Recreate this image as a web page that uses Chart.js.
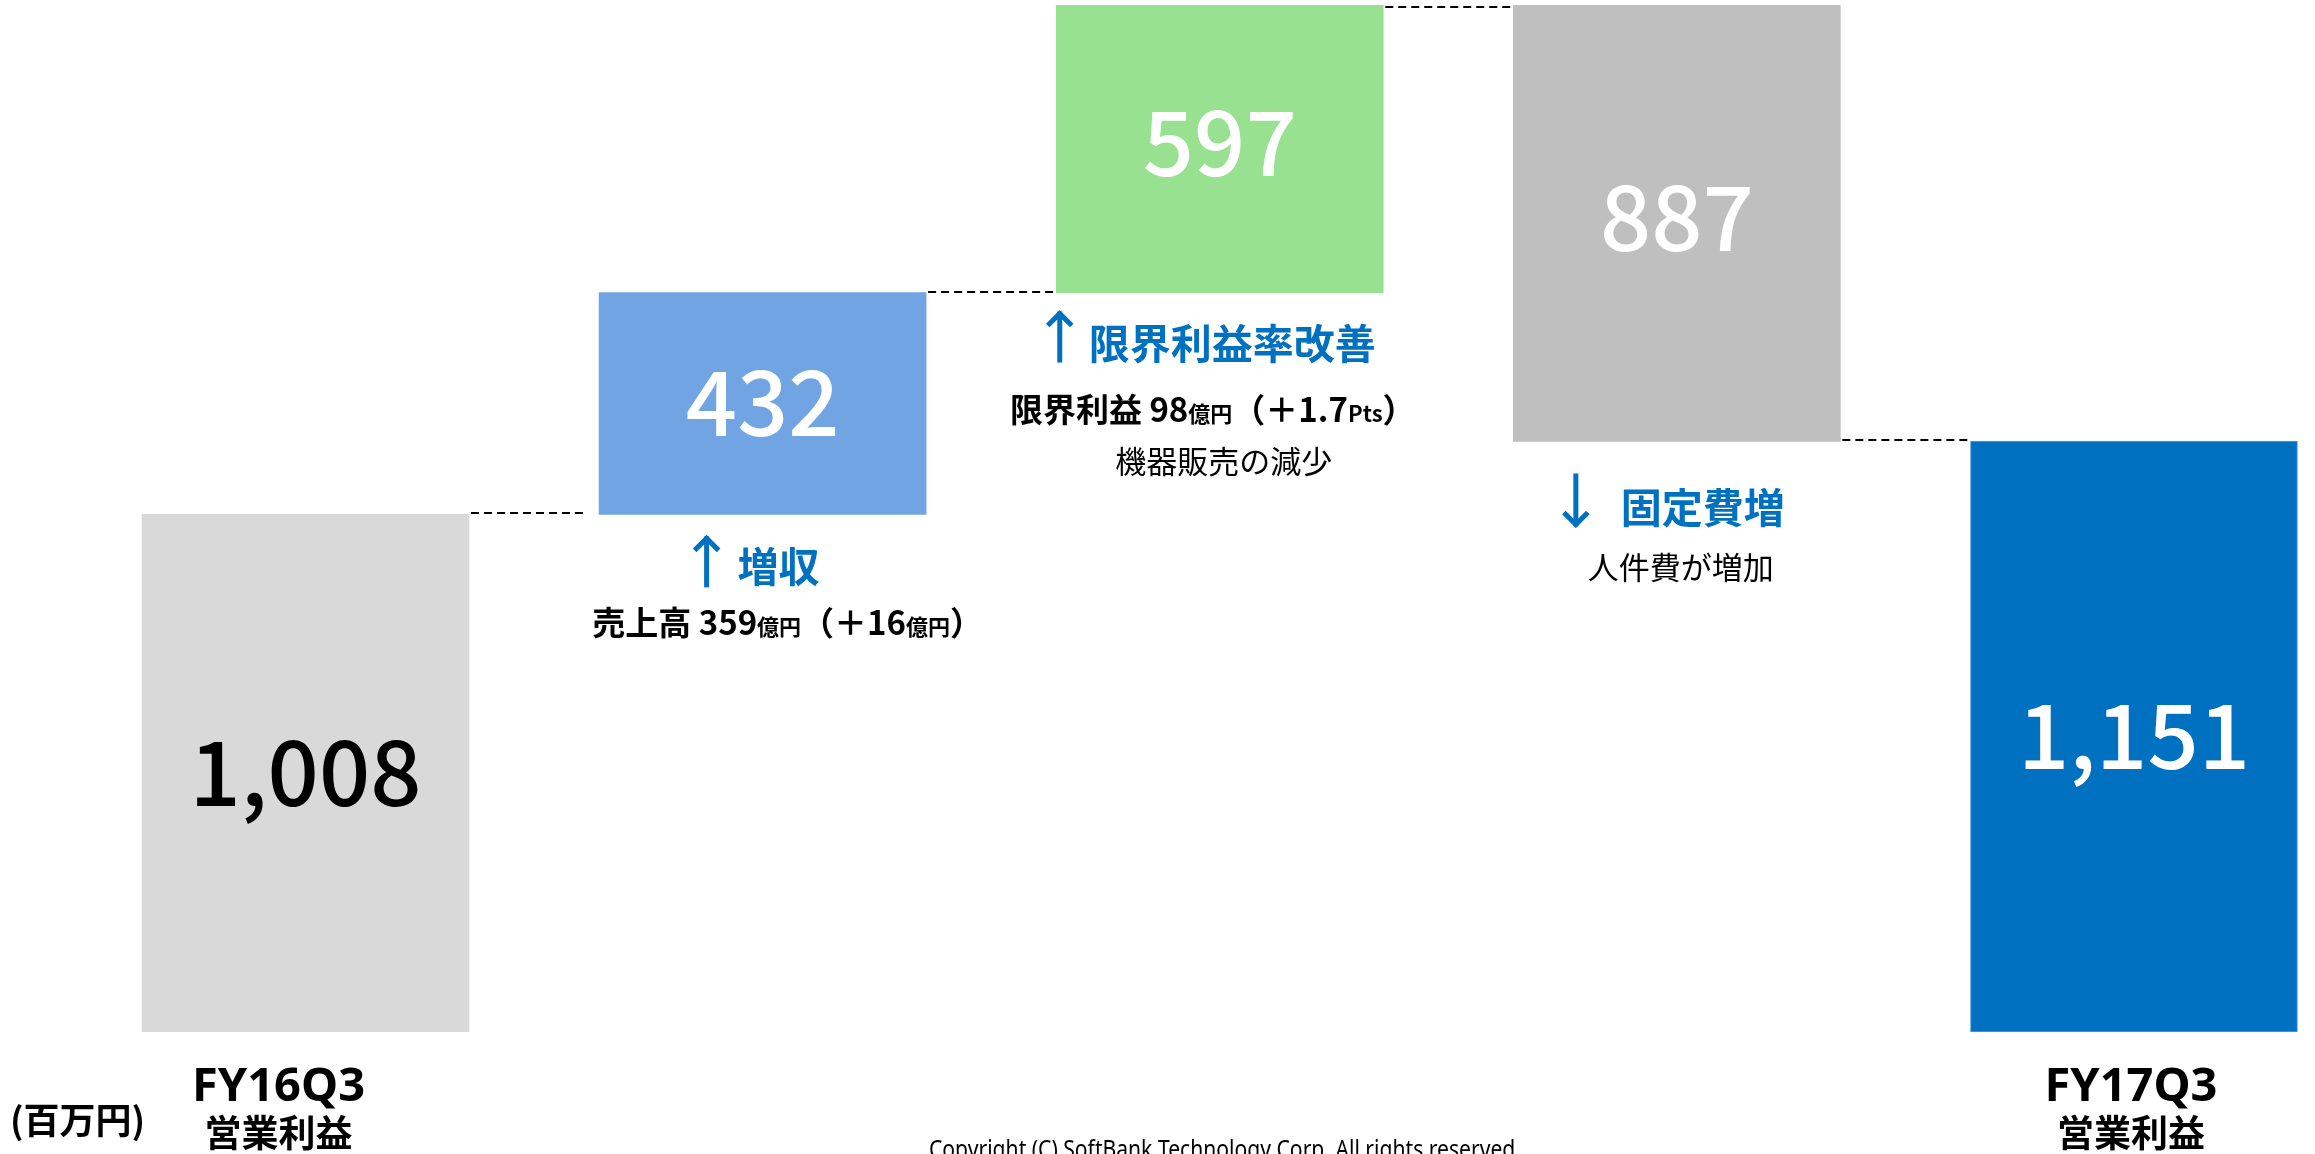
<!DOCTYPE html>
<html><head><meta charset="utf-8">
<script src="https://cdn.jsdelivr.net/npm/chart.js@4.4.1/dist/chart.umd.min.js"></script>
<style>html,body{margin:0;padding:0;background:#fff;overflow:hidden}canvas{display:block}</style>
</head><body>
<canvas id="c" width="2315" height="1154"></canvas>
<script>
// ---- data ----
const categories = [['FY16Q3', '営業利益'], '増収', '限界利益率改善', '固定費増', ['FY17Q3', '営業利益']];
const stepValues = [1008, 432, 597, -887];   // start profit, then changes
const endValue = 1151;
const valueLabels = ['1,008', '432', '597', '887', '1,151'];
const unitLabel = '(百万円)';
const noteArrows = ['', 'up', 'up', 'down', ''];
const noteTitles = ['', '増収', '限界利益率改善', '固定費増', ''];
const noteDetails = [
  [],
  [[['売上高 359', 33, 'bold'], ['億円', 22, 'bold'], ['（＋16', 33, 'bold'], ['億円', 22, 'bold'], ['）', 33, 'bold']]],
  [[['限界利益 98', 33, 'bold'], ['億円', 22, 'bold'], ['（＋1.7', 33, 'bold'], ['Pts', 22, 'bold'], ['）', 33, 'bold']],
   [['機器販売の減少', 31, 'normal']]],
  [[['人件費が増加', 31, 'normal']]],
  []
];
const copyright = 'Copyright (C) SoftBank Technology Corp. All rights reserved.';
const barColors = ['#d9d9d9', '#70a4e2', '#98e191', '#bfbfbf', '#0070c0'];
const labelColors = ['#000000', '#ffffff', '#ffffff', '#ffffff', '#ffffff'];

// floating ranges built from the values
let run = 0;
const ranges = stepValues.map(v => { const r = [run, run + v]; run += v; return r; });
ranges.push([0, endValue]);
const points = ranges.map((r, i) => ({x: i, y: r}));

const JP = '"Noto Sans CJK JP", "Noto Sans", sans-serif';
const LAT = '"Noto Sans", "Noto Sans CJK JP", sans-serif';
const BLUE = '#0070c0';

// layout per annotation (offsets from bar centre / bar visible bottom)
const noteLayout = {
  1: {arrowDx: -56, arrowTop: 22, arrowBot: 73, titleDx: -25, titleCy: 52, lines: [{dx: 25, base: 121, mode: 'baseline'}]},
  2: {arrowDx: -160, arrowTop: 19, arrowBot: 70, titleDx: -131, titleCy: 51, lines: [{dx: -7, base: 129, mode: 'baseline'}, {dx: 4, base: 169, mode: 'middle'}]},
  3: {arrowDx: -101, arrowTop: 32, arrowBot: 85, titleDx: -56, titleCy: 66, lines: [{dx: 4, base: 126, mode: 'middle'}]}
};

const overlay = {
  id: 'overlay',
  afterDatasetsDraw(chart) {
    const ctx = chart.ctx, area = chart.chartArea, ys = chart.scales.y;
    const els = chart.getDatasetMeta(0).data;
    const vis = els.map(e => {
      const t = Math.max(area.top, Math.min(e.y, e.base));
      const b = Math.min(area.bottom, Math.max(e.y, e.base));
      return {x: e.x, w: e.width, top: t, bottom: b};
    });
    ctx.save();
    // dashed connectors
    ctx.strokeStyle = '#000'; ctx.lineWidth = 2; ctx.setLineDash([8, 5]);
    for (let i = 0; i < vis.length - 1; i++) {
      const lvl = i === vis.length - 2 ? ranges[i + 1][1] : ranges[i][1];
      const y = Math.max(area.top + 2, Math.round(ys.getPixelForValue(lvl)) - 1);
      ctx.beginPath();
      ctx.moveTo(vis[i].x + vis[i].w / 2 + 2, y);
      ctx.lineTo(vis[i + 1].x - vis[i + 1].w / 2 - (i === 0 ? 12 : 0), y);
      ctx.stroke();
    }
    ctx.setLineDash([]);
    // value labels
    ctx.textAlign = 'center'; ctx.textBaseline = 'alphabetic';
    const vSize = 90;
    ctx.font = `500 ${vSize}px ${JP}`;
    vis.forEach((v, i) => {
      ctx.fillStyle = labelColors[i];
      const cy = (v.top + v.bottom) / 2 - (v.top <= area.top + 1 ? 5 : 0);
      ctx.fillText(valueLabels[i], v.x, cy + vSize * 0.36);
    });
    // category labels under first/last bars
    const catDx = [-27, 0, 0, 0, -3];
    [0, 4].forEach(i => {
      const c = categories[i];
      ctx.fillStyle = '#000'; ctx.textAlign = 'center';
      ctx.textBaseline = 'alphabetic';
      ctx.font = `bold 47px ${LAT}`;
      ctx.fillText(c[0], vis[i].x + catDx[i], area.bottom + 69);
      ctx.textBaseline = 'middle';
      ctx.font = `bold 37px ${JP}`;
      ctx.fillText(c[1], vis[i].x + catDx[i], area.bottom + 101);
    });
    // unit
    ctx.textAlign = 'left'; ctx.textBaseline = 'middle';
    ctx.font = `bold 36px ${JP}`;
    ctx.fillText(unitLabel, 10, area.bottom + 88);
    // notes
    Object.keys(noteLayout).forEach(k => {
      const i = +k, L = noteLayout[k], v = vis[i];
      const ax = v.x + L.arrowDx, t = v.bottom + L.arrowTop, b = v.bottom + L.arrowBot;
      ctx.strokeStyle = BLUE; ctx.lineWidth = 5; ctx.lineCap = 'butt'; ctx.lineJoin = 'miter';
      ctx.beginPath(); ctx.moveTo(ax, t); ctx.lineTo(ax, b); ctx.stroke();
      ctx.beginPath();
      if (noteArrows[i] === 'up') { ctx.moveTo(ax - 12, t + 14); ctx.lineTo(ax, t + 2); ctx.lineTo(ax + 12, t + 14); }
      else { ctx.moveTo(ax - 12, b - 14); ctx.lineTo(ax, b - 2); ctx.lineTo(ax + 12, b - 14); }
      ctx.stroke();
      ctx.fillStyle = BLUE; ctx.textAlign = 'left'; ctx.textBaseline = 'middle';
      ctx.font = `bold 41px ${JP}`;
      ctx.fillText(noteTitles[i], v.x + L.titleDx, v.bottom + L.titleCy);
      noteDetails[i].forEach((runs, j) => {
        const ln = L.lines[j];
        let total = 0;
        runs.forEach(r => { ctx.font = `${r[2]} ${r[1]}px ${JP}`; total += ctx.measureText(r[0]).width; });
        let x = v.x + ln.dx - total / 2;
        ctx.fillStyle = '#000'; ctx.textAlign = 'left';
        ctx.textBaseline = ln.mode === 'baseline' ? 'alphabetic' : 'middle';
        runs.forEach(r => {
          ctx.font = `${r[2]} ${r[1]}px ${JP}`;
          ctx.fillText(r[0], x, v.bottom + ln.base);
          x += ctx.measureText(r[0]).width;
        });
      });
    });
    // copyright
    ctx.fillStyle = '#000'; ctx.textAlign = 'center'; ctx.textBaseline = 'alphabetic';
    ctx.font = `normal 25px ${LAT}`;
    ctx.fillText(copyright, 1225, 1158, 592);
    ctx.restore();
  }
};

new Chart(document.getElementById('c'), {
  type: 'bar',
  data: {
    datasets: [{
      data: points,
      backgroundColor: barColors,
      borderColor: ['#d9d9d9', '#70a4e2', '#98e191', '#bfbfbf', '#4f9fe6'],
      borderWidth: [0, 0, 0, 0, 1],
      borderSkipped: false,
      barThickness: 327,
      clip: 0
    }]
  },
  options: {
    responsive: false,
    animation: false,
    layout: {padding: {top: 5, bottom: 122, left: 0, right: 0}},
    plugins: {legend: {display: false}, tooltip: {enabled: false}},
    scales: {
      x: {type: 'linear', min: -0.6683, max: 4.396, display: false, offset: false},
      y: {min: 0, max: 2000, display: false}
    }
  },
  plugins: [overlay]
});
</script>
</body></html>
